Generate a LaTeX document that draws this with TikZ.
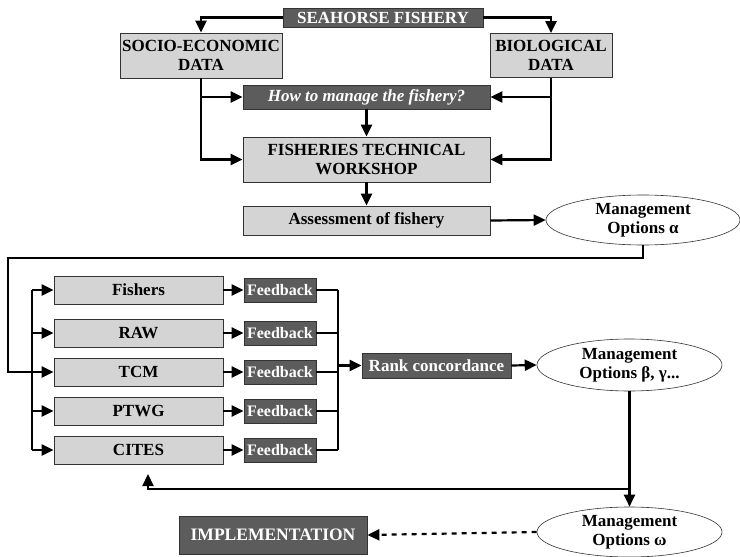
\documentclass[tikz,border=0pt]{standalone}
\usepackage{fontspec}
\setmainfont{Liberation Serif}
\usepackage{tikz}
\usetikzlibrary{arrows.meta,shapes.geometric}

\definecolor{lightfill}{HTML}{D4D4D4}
\definecolor{darkfill}{HTML}{5C5C5C}

\tikzset{
  lightbox/.style={draw=black!80, fill=lightfill, line width=0.8pt, inner sep=0pt,
    align=center, font=\fontsize{17}{19}\selectfont\bfseries},
  darkbox/.style={draw=black!80, fill=darkfill, line width=0.8pt, inner sep=0pt,
    align=center, text=white, font=\fontsize{17}{19}\selectfont\bfseries},
  optellipse/.style={ellipse, draw=black!80, fill=white, line width=0.6pt, inner sep=0pt,
    align=center, font=\fontsize{17}{19}\selectfont\bfseries},
  arr/.style={-{Triangle[length=12pt,width=11pt]}, line width=2.2pt},
  wire/.style={line width=2.2pt}
}

\begin{document}
\begin{tikzpicture}[x=1pt,y=-1pt]
		\useasboundingbox (0,0) rectangle (740,557);
		
		%--- top part: fishery, data, workshop ---
		\node[darkbox, minimum width=200, minimum height=19] (seahorse) at (383,17.5) {SEAHORSE FISHERY};
		\node[lightbox, minimum width=162, minimum height=45] (socio) at (201,55.5) {SOCIO-ECONOMIC\\DATA};
		\node[lightbox, minimum width=122, minimum height=44] (bio) at (551,55.5) {BIOLOGICAL\\DATA};
		\node[darkbox, minimum width=247, minimum height=24,
		      font=\fontsize{17}{19}\selectfont\bfseries\itshape] (how) at (366.5,97) {How to manage the fishery?};
		\node[lightbox, minimum width=247, minimum height=45] (ftw) at (366.5,159.5) {FISHERIES TECHNICAL\\WORKSHOP};
		\node[lightbox, minimum width=247, minimum height=29] (assess) at (366.5,220.5) {Assessment of fishery};
		\node[optellipse, minimum width=194, minimum height=50] (alpha) at (643,220) {Management\\Options α};
		
		\draw[arr] (seahorse.west) -| (socio.north);
		\draw[arr] (seahorse.east) -| (bio.north);
		\draw[arr] (socio.south) |- (ftw.west);
		\draw[arr] (socio.south |- how.west) -- (how.west);
		\draw[arr] (bio.south) |- (ftw.east);
		\draw[arr] (bio.south |- how.east) -- (how.east);
		\draw[arr] (how.south) -- (ftw.north);
		\draw[arr] (ftw.south) -- (assess.north);
		\draw[arr] (assess.east) -- (alpha.west);
		
		%--- stakeholder groups and their feedback ---
		\foreach \grp/\lab/\y/\fb in {fishers/Fishers/290/fb1, raw/RAW/333/fb2, tcm/TCM/372/fb3,
		                             ptwg/PTWG/411/fb4, cites/CITES/450/fb5}{
			\node[lightbox, minimum width=169, minimum height=28] (\grp) at (138.5,\y) {\lab};
			\node[darkbox, minimum width=72, minimum height=24,
			      font=\fontsize{16}{18}\selectfont\bfseries] (\fb) at (280,\y) {Feedback};
			\draw[arr] (\grp.east) -- (\fb.west);
		}
		
		% line from options alpha back to the groups
		\coordinate (drop) at (8,258);
		\coordinate (lbus) at (32,0);
		\draw[arr] (alpha.south) |- (drop) |- (tcm.west);
		\draw[wire] (lbus |- fishers.west) -- (lbus |- cites.west);
		\foreach \grp in {fishers,raw,ptwg,cites}
			\draw[arr] (lbus |- \grp.west) -- (\grp.west);
		
		%--- rank concordance and further options ---
		\node[darkbox, minimum width=149, minimum height=25] (rank) at (436.5,365.5) {Rank concordance};
		\node[optellipse, minimum width=185, minimum height=52] (beta) at (629.5,365) {Management\\Options β, γ...};
		\node[optellipse, minimum width=185, minimum height=50] (omega) at (629.5,532) {Management\\Options ω};
		\node[darkbox, minimum width=188, minimum height=38,
		      font=\fontsize{17.5}{19}\selectfont\bfseries] (impl) at (273,535) {IMPLEMENTATION};
		
		\coordinate (rbus) at (338,0);
		\foreach \fb in {fb1,fb2,fb3,fb4,fb5}
			\draw[wire] (\fb.east) -- (rbus |- \fb.east);
		\draw[wire] (rbus |- fb1.east) -- (rbus |- fb5.east);
		\draw[arr] (rbus |- rank.west) -- (rank.west);
		\draw[arr] (rank.east) -- (beta.west);
		\draw[arr] (beta.south) -- (omega.north);
		
		% loop back under the groups
		\coordinate (back) at (148,489);
		\coordinate (loopend) at (148,474);
		\draw[arr] (beta.south |- back) -| (loopend);
		
		\draw[arr, dash pattern=on 5pt off 5pt] (omega.west) -- (impl.east);
		
	\end{tikzpicture}
\end{document}
